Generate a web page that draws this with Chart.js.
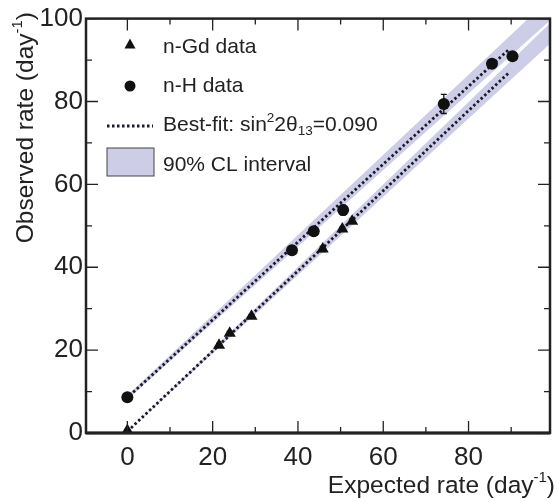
<!DOCTYPE html>
<html>
<head>
<meta charset="utf-8">
<script src="https://cdn.jsdelivr.net/npm/chart.js@4.4.0/dist/chart.umd.min.js"></script>
<style>
    html, body { margin: 0; padding: 0; background: #fff; }
    canvas { display: block; }
</style>
</head>
<body>
<canvas id="out" width="557" height="502"></canvas>
<script>
// n-Gd data (expected, observed)
const gdExpected = [0, 21.5, 24.0, 29.1, 45.8, 50.4, 52.7];
const gdObserved = [0.6, 21.2, 24.1, 28.2, 44.4, 49.2, 51.1];
const gdError = [0.2, 0.4, 0.4, 0.4, 0.6, 0.5, 0.5];

// n-H data
const hExpected = [0, 38.6, 43.7, 50.6, 74.2, 85.5, 90.3];
const hObserved = [8.6, 44.1, 48.7, 53.8, 79.4, 89.1, 90.9];
const hError = [0.4, 0.9, 0.6, 1.2, 2.3, 0.6, 0.6];

// best-fit lines (end points)
const fitHX = [0.5, 89.3];
const fitHY = [9.0, 92.4];
const fitGdX = [0, 89.3];
const fitGdY = [0.4, 86.8];

// 90% CL bands (edges at both ends)
const bandX = [0, 100];
const hBandHi = [9.1, 105.8];
const hBandLo = [8.1, 100.4];
const gdBandHi = [0.3, 99.8];
const gdBandLo = [0.3, 94.8];

// axes
const xMajor = [0, 20, 40, 60, 80];
const xMinor = [10, 30, 50, 70, 90];
const yMajor = [0, 20, 40, 60, 80, 100];
const yMinor = [10, 30, 50, 70, 90];

const FONT = '"Liberation Sans", Arial, Helvetica, sans-serif';
const ink = "#222";
const bandColor = "#cdcde8";

function pts(xs, ys) {
    return xs.map((x, i) => ({ x: x, y: ys[i] }));
}

// draws text pieces (for super/subscripts), returns width
function drawRich(ctx, parts, x, y, align) {
    let total = 0;
    for (const p of parts) {
        ctx.font = p.size + "px " + FONT;
        total += ctx.measureText(p.t).width;
    }
    let cx = align === "right" ? x - total : x;
    ctx.textAlign = "left";
    ctx.textBaseline = "alphabetic";
    for (const p of parts) {
        ctx.font = p.size + "px " + FONT;
        ctx.fillText(p.t, cx, y + (p.dy || 0));
        cx += ctx.measureText(p.t).width;
    }
    return total;
}

const decorations = {
    id: "decorations",
    afterDatasetsDraw(chart) {
        const ctx = chart.ctx;
        const xs = chart.scales.x, ys = chart.scales.y;
        ctx.save();
        ctx.strokeStyle = "#111";
        ctx.lineWidth = 1.3;
        const bars = [[hExpected, hObserved, hError], [gdExpected, gdObserved, gdError]];
        for (const [ex, ob, er] of bars) {
            for (let i = 0; i < ex.length; i++) {
                const px = xs.getPixelForValue(ex[i]);
                const top = ys.getPixelForValue(ob[i] + er[i]);
                const bot = ys.getPixelForValue(ob[i] - er[i]);
                ctx.beginPath();
                ctx.moveTo(px, top); ctx.lineTo(px, bot);
                ctx.moveTo(px - 3, top); ctx.lineTo(px + 3, top);
                ctx.moveTo(px - 3, bot); ctx.lineTo(px + 3, bot);
                ctx.stroke();
            }
        }
        ctx.restore();
    },
    afterDraw(chart) {
        const ctx = chart.ctx;
        const a = chart.chartArea;
        const xs = chart.scales.x, ys = chart.scales.y;
        ctx.save();

        // frame
        ctx.strokeStyle = ink;
        ctx.lineWidth = 2.5;
        ctx.strokeRect(a.left, a.top, a.right - a.left, a.bottom - a.top);
        ctx.lineWidth = 3;
        ctx.beginPath();
        ctx.moveTo(a.left, a.bottom); ctx.lineTo(a.right, a.bottom);
        ctx.stroke();

        // inward ticks
        ctx.lineWidth = 1.3;
        ctx.beginPath();
        const tickX = (v, len) => {
            const p = xs.getPixelForValue(v);
            ctx.moveTo(p, a.bottom); ctx.lineTo(p, a.bottom - len);
            ctx.moveTo(p, a.top); ctx.lineTo(p, a.top + len);
        };
        const tickY = (v, len) => {
            const p = ys.getPixelForValue(v);
            ctx.moveTo(a.left, p); ctx.lineTo(a.left + len, p);
            ctx.moveTo(a.right, p); ctx.lineTo(a.right - len, p);
        };
        xMajor.forEach(v => tickX(v, 12));
        xMinor.forEach(v => tickX(v, 6));
        yMajor.forEach(v => tickY(v, 12));
        yMinor.forEach(v => tickY(v, 6));
        ctx.stroke();

        // axis titles
        ctx.fillStyle = ink;
        drawRich(ctx, [
            { t: "Expected rate (day", size: 24.5 },
            { t: "-1", size: 15, dy: -11 },
            { t: ")", size: 24.5 }
        ], 555, 493, "right");

        ctx.save();
        ctx.translate(33, 12);
        ctx.rotate(-Math.PI / 2);
        drawRich(ctx, [
            { t: "Observed rate (day", size: 24.5 },
            { t: "-1", size: 15, dy: -11 },
            { t: ")", size: 24.5 }
        ], 0, 0, "right");
        ctx.restore();

        // legend
        const lx = 130, tx = 163;
        ctx.fillStyle = "#111";
        ctx.beginPath();
        ctx.moveTo(lx, 38.5); ctx.lineTo(lx + 5.5, 48.5); ctx.lineTo(lx - 5.5, 48.5);
        ctx.closePath();
        ctx.fill();
        ctx.beginPath();
        ctx.arc(lx, 86, 5.5, 0, Math.PI * 2);
        ctx.fill();

        ctx.strokeStyle = "#1a1a2a";
        ctx.lineWidth = 2.8;
        ctx.setLineDash([2.5, 2.5]);
        ctx.beginPath();
        ctx.moveTo(107, 126); ctx.lineTo(153, 126);
        ctx.stroke();
        ctx.setLineDash([]);

        ctx.fillStyle = bandColor;
        ctx.fillRect(107, 148, 47, 28);
        ctx.strokeStyle = "#444";
        ctx.lineWidth = 1;
        ctx.strokeRect(107, 148, 47, 28);

        ctx.fillStyle = ink;
        drawRich(ctx, [{ t: "n-Gd data", size: 21 }], tx, 53);
        drawRich(ctx, [{ t: "n-H data", size: 21 }], tx, 92);
        drawRich(ctx, [
            { t: "Best-fit: sin", size: 21 },
            { t: "2", size: 13.5, dy: -9 },
            { t: "2\u03b8", size: 21 },
            { t: "13", size: 13.5, dy: 4 },
            { t: "=0.090", size: 21 }
        ], tx, 131);
        drawRich(ctx, [{ t: "90% CL interval", size: 21 }], tx, 171);

        ctx.restore();
    }
};

const chartConfig = {
    type: "scatter",
    data: {
        datasets: [
            {
                label: "n-Gd data",
                data: pts(gdExpected, gdObserved),
                pointStyle: "triangle",
                pointRadius: 7,
                backgroundColor: "#111",
                borderColor: "#111",
                borderWidth: 0
            },
            {
                label: "n-H data",
                data: pts(hExpected, hObserved),
                pointStyle: "circle",
                pointRadius: 6,
                backgroundColor: "#111",
                borderColor: "#111",
                borderWidth: 0
            },
            {
                label: "fit n-H",
                data: pts(fitHX, fitHY),
                showLine: true,
                pointRadius: 0,
                borderColor: "#1a1a2a",
                borderWidth: 2.8,
                borderDash: [2.5, 2.5]
            },
            {
                label: "fit n-Gd",
                data: pts(fitGdX, fitGdY),
                showLine: true,
                pointRadius: 0,
                borderColor: "#1a1a2a",
                borderWidth: 2.8,
                borderDash: [2.5, 2.5]
            },
            {
                label: "band n-H hi",
                data: pts(bandX, hBandHi),
                showLine: true,
                pointRadius: 0,
                borderWidth: 0,
                borderColor: "rgba(0,0,0,0)",
                backgroundColor: bandColor,
                fill: "+1"
            },
            {
                label: "band n-H lo",
                data: pts(bandX, hBandLo),
                showLine: true,
                pointRadius: 0,
                borderWidth: 0,
                borderColor: "rgba(0,0,0,0)"
            },
            {
                label: "band n-Gd hi",
                data: pts(bandX, gdBandHi),
                showLine: true,
                pointRadius: 0,
                borderWidth: 0,
                borderColor: "rgba(0,0,0,0)",
                backgroundColor: bandColor,
                fill: "+1"
            },
            {
                label: "band n-Gd lo",
                data: pts(bandX, gdBandLo),
                showLine: true,
                pointRadius: 0,
                borderWidth: 0,
                borderColor: "rgba(0,0,0,0)"
            }
        ]
    },
    options: {
        responsive: false,
        animation: false,
        devicePixelRatio: 1,
        layout: { padding: { top: 13, right: 1, left: 0, bottom: 0 } },
        plugins: {
            legend: { display: false },
            tooltip: { enabled: false }
        },
        scales: {
            x: {
                type: "linear",
                min: -9.7,
                max: 99.1,
                grid: { display: false, drawTicks: false },
                border: { display: false },
                ticks: {
                    color: ink,
                    font: { family: FONT, size: 26 },
                    padding: 9,
                    maxRotation: 0
                },
                afterBuildTicks: s => { s.ticks = xMajor.map(v => ({ value: v })); },
                afterFit: s => { s.height = 69; }
            },
            y: {
                type: "linear",
                min: 0,
                max: 100,
                grid: { display: false, drawTicks: false },
                border: { display: false },
                ticks: {
                    color: ink,
                    font: { family: FONT, size: 26 },
                    padding: 3
                },
                afterBuildTicks: s => { s.ticks = yMajor.map(v => ({ value: v })); },
                afterFit: s => { s.width = 86; }
            }
        }
    },
    plugins: [decorations]
};

const canvasCtx = document.getElementById("out").getContext("2d");
window.chart = new Chart(canvasCtx, chartConfig);
</script>
</body>
</html>
